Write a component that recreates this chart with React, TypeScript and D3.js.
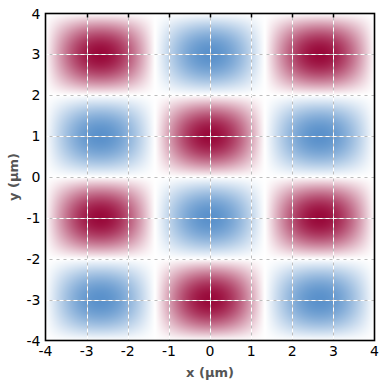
import { useEffect, useRef } from "react";
import * as d3 from "d3";

// Field lobes (centres in µm, peak amplitude sign)
const xLobes = [-2.67, 0, 2.67];
const yLobes = [3, 1, -1, -3];
const lobeAmp = [
  [1, -1, 1],
  [-1, 1, -1],
  [1, -1, 1],
  [-1, 1, -1],
];
const lobeHalfX = [1.33, 1.33, 1.33];
const lobeHalfY = [1, 1, 1, 1];

const xTicks = [-4, -3, -2, -1, 0, 1, 2, 3, 4];
const yTicks = [-4, -3, -2, -1, 0, 1, 2, 3, 4];

const WIDTH = 388;
const HEIGHT = 383;
const M = { left: 45.5, top: 13.5, right: 13.5, bottom: 42.5 };

export default function App() {
  const svgRef = useRef<SVGSVGElement | null>(null);

  useEffect(() => {
    const svgEl = svgRef.current;
    if (!svgEl) return;
    const svg = d3.select(svgEl);
    svg.selectAll("*").remove();

    const x = d3.scaleLinear().domain([-4, 4]).range([M.left, WIDTH - M.right]);
    const y = d3.scaleLinear().domain([-4, 4]).range([HEIGHT - M.bottom, M.top]);

    const color = d3
      .scaleLinear<string>()
      .domain([-1, 0, 1])
      .range(["#5a91cb", "#ffffff", "#99093a"])
      .interpolate(d3.interpolateRgb)
      .clamp(true);

    // raster of the field, one pixel per screen pixel
    const pw = Math.round(x(4) - x(-4));
    const ph = Math.round(y(-4) - y(4));
    const canvas = document.createElement("canvas");
    canvas.width = pw;
    canvas.height = ph;
    const ctx = canvas.getContext("2d")!;
    const img = ctx.createImageData(pw, ph);
    for (let j = 0; j < ph; j++) {
      const yv = y.invert(M.top + j + 0.5);
      const row = yLobes.findIndex((c, i) => Math.abs(yv - c) <= lobeHalfY[i] + 1e-9);
      for (let i = 0; i < pw; i++) {
        const xv = x.invert(M.left + i + 0.5);
        const col = xLobes.findIndex((c, k) => Math.abs(xv - c) <= lobeHalfX[k] + 1e-9);
        let v = 0;
        if (row >= 0 && col >= 0) {
          const dx = (xv - xLobes[col]) / lobeHalfX[col];
          const dy = (yv - yLobes[row]) / lobeHalfY[row];
          v = lobeAmp[row][col] * Math.cos((Math.PI / 2) * dx) * Math.cos((Math.PI / 2) * dy);
        }
        const c = d3.rgb(color(v));
        const o = (j * pw + i) * 4;
        img.data[o] = c.r;
        img.data[o + 1] = c.g;
        img.data[o + 2] = c.b;
        img.data[o + 3] = 255;
      }
    }
    ctx.putImageData(img, 0, 0);

    svg
      .append("image")
      .attr("x", x(-4))
      .attr("y", y(4))
      .attr("width", pw)
      .attr("height", ph)
      .attr("preserveAspectRatio", "none")
      .attr("href", canvas.toDataURL());

    // grid: grey line with white dashes on top
    const grid = svg.append("g");
    const addLines = (sel: d3.Selection<SVGGElement, unknown, null, undefined>, stroke: string, dash: string | null) => {
      sel
        .selectAll("line.v")
        .data(xTicks.slice(1, -1))
        .enter()
        .append("line")
        .attr("x1", (d) => Math.round(x(d)) + 0.5)
        .attr("x2", (d) => Math.round(x(d)) + 0.5)
        .attr("y1", y(4))
        .attr("y2", y(-4))
        .attr("stroke", stroke)
        .attr("stroke-dasharray", dash);
      sel
        .selectAll("line.h")
        .data(yTicks.slice(1, -1))
        .enter()
        .append("line")
        .attr("x1", x(-4))
        .attr("x2", x(4))
        .attr("y1", (d) => Math.round(y(d)) + 0.5)
        .attr("y2", (d) => Math.round(y(d)) + 0.5)
        .attr("stroke", stroke)
        .attr("stroke-dasharray", dash);
    };
    addLines(grid.append("g"), "#bdbdbd", null);
    addLines(grid.append("g"), "#ffffff", "4,3");

    // top ticks (inside)
    svg
      .append("g")
      .selectAll("line")
      .data(xTicks.slice(1, -1))
      .enter()
      .append("line")
      .attr("x1", (d) => Math.round(x(d)) + 0.5)
      .attr("x2", (d) => Math.round(x(d)) + 0.5)
      .attr("y1", y(4))
      .attr("y2", y(4) + 4)
      .attr("stroke", "#000")
      .attr("stroke-width", 1.5);

    // frame
    svg
      .append("rect")
      .attr("x", x(-4))
      .attr("y", y(4))
      .attr("width", x(4) - x(-4))
      .attr("height", y(-4) - y(4))
      .attr("fill", "none")
      .attr("stroke", "#000")
      .attr("stroke-width", 1.6);

    const font = "'DejaVu Sans', Verdana, sans-serif";

    svg
      .append("g")
      .selectAll("text")
      .data(xTicks)
      .enter()
      .append("text")
      .text((d) => String(d))
      .attr("x", (d) => x(d))
      .attr("y", HEIGHT - M.bottom + 15.5)
      .attr("text-anchor", "middle")
      .attr("font-family", font)
      .attr("font-size", 14)
      .attr("fill", "#000");

    svg
      .append("g")
      .selectAll("text")
      .data(yTicks)
      .enter()
      .append("text")
      .text((d) => String(d))
      .attr("x", M.left - 5)
      .attr("y", (d) => y(d) + 5)
      .attr("text-anchor", "end")
      .attr("font-family", font)
      .attr("font-size", 14)
      .attr("fill", "#000");

    svg
      .append("text")
      .text("x (µm)")
      .attr("x", (x(-4) + x(4)) / 2)
      .attr("y", HEIGHT - 6)
      .attr("text-anchor", "middle")
      .attr("font-family", font)
      .attr("font-size", 13)
      .attr("font-weight", "bold")
      .attr("fill", "#555");

    svg
      .append("text")
      .text("y (µm)")
      .attr("transform", `translate(18, ${(y(4) + y(-4)) / 2}) rotate(-90)`)
      .attr("text-anchor", "middle")
      .attr("font-family", font)
      .attr("font-size", 13)
      .attr("font-weight", "bold")
      .attr("fill", "#555");
  }, []);

  return (
    <svg
      ref={svgRef}
      width={WIDTH}
      height={HEIGHT}
      style={{ position: "fixed", left: 0, top: 0, background: "#fff" }}
    />
  );
}
